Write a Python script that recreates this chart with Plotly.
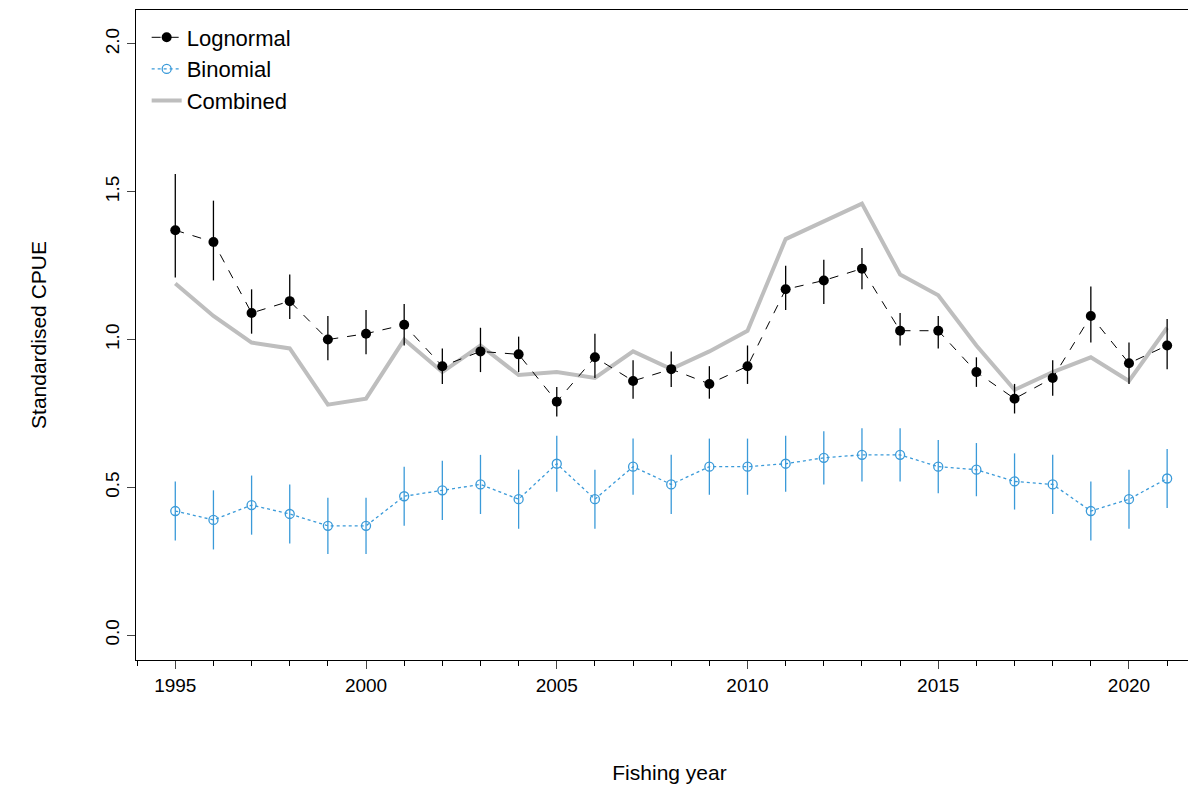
import plotly.graph_objects as go

years = list(range(1995, 2022))
logn = [1.37, 1.33, 1.09, 1.13, 1.00, 1.02, 1.05, 0.91, 0.96, 0.95, 0.79, 0.94, 0.86, 0.90,
        0.85, 0.91, 1.17, 1.20, 1.24, 1.03, 1.03, 0.89, 0.80, 0.87, 1.08, 0.92, 0.98]
logn_lo = [1.21, 1.20, 1.02, 1.07, 0.93, 0.95, 0.98, 0.85, 0.89, 0.89, 0.74, 0.87, 0.80, 0.84,
           0.80, 0.85, 1.10, 1.12, 1.17, 0.98, 0.97, 0.84, 0.75, 0.81, 0.99, 0.85, 0.90]
logn_hi = [1.56, 1.47, 1.17, 1.22, 1.08, 1.10, 1.12, 0.97, 1.04, 1.01, 0.84, 1.02, 0.93, 0.96,
           0.91, 0.98, 1.25, 1.27, 1.31, 1.09, 1.08, 0.94, 0.85, 0.93, 1.18, 0.99, 1.07]
binom = [0.42, 0.39, 0.44, 0.41, 0.37, 0.37, 0.47, 0.49, 0.51, 0.46, 0.58, 0.46, 0.57, 0.51,
         0.57, 0.57, 0.58, 0.60, 0.61, 0.61, 0.57, 0.56, 0.52, 0.51, 0.42, 0.46, 0.53]
binom_err = [0.10, 0.10, 0.10, 0.10, 0.095, 0.095, 0.10, 0.10, 0.10, 0.10, 0.095, 0.10, 0.095, 0.10,
             0.095, 0.095, 0.095, 0.09, 0.09, 0.09, 0.09, 0.09, 0.095, 0.10, 0.10, 0.10, 0.10]
combined = [1.19, 1.08, 0.99, 0.97, 0.78, 0.80, 1.00, 0.89, 0.98, 0.88, 0.89, 0.87, 0.96, 0.90,
            0.96, 1.03, 1.34, 1.40, 1.46, 1.22, 1.15, 0.98, 0.83, 0.89, 0.94, 0.86, 1.04]

blue = "#3a9ad9"
fig = go.Figure()
fig.add_trace(go.Scatter(
    x=years, y=combined, mode="lines", name="Combined", legendrank=3,
    line=dict(color="#bebebe", width=4)))
fig.add_trace(go.Scatter(
    x=years, y=logn, mode="lines+markers", name="Lognormal", legendrank=1,
    line=dict(color="black", width=1, dash="dash"),
    marker=dict(color="black", size=10),
    error_y=dict(type="data", symmetric=False,
                 array=[h - v for h, v in zip(logn_hi, logn)],
                 arrayminus=[v - l for v, l in zip(logn, logn_lo)],
                 color="black", thickness=1.3, width=0)))
fig.add_trace(go.Scatter(
    x=years, y=binom, mode="lines+markers", name="Binomial", legendrank=2,
    line=dict(color=blue, width=1.3, dash="dot"),
    marker=dict(symbol="circle-open", color=blue, size=9, line=dict(width=1.3)),
    error_y=dict(type="data", array=binom_err, color=blue, thickness=1.3, width=0)))

fig.update_layout(
    width=1196, height=787, plot_bgcolor="white", paper_bgcolor="white",
    margin=dict(l=128, r=1, t=2, b=135),
    font=dict(family="Liberation Sans, Arial", size=19, color="black"),
    legend=dict(x=0.01, y=0.99, xanchor="left", yanchor="top",
                bgcolor="rgba(0,0,0,0)", font=dict(size=22)),
)
fig.update_xaxes(range=[1993.97, 2021.94], tickvals=[1995, 2000, 2005, 2010, 2015, 2020],
                 ticks="outside", ticklen=8, showline=True, linecolor="black", mirror=True,
                 showgrid=False, zeroline=False,
                 title=dict(text="Fishing year", standoff=70, font=dict(size=21)),
                 minor=dict(dtick=1, ticks="outside", ticklen=5, tickcolor="black"))
fig.update_yaxes(range=[-0.084, 2.115], tickvals=[0, 0.5, 1.0, 1.5, 2.0],
                 ticktext=["0.0", "0.5", "1.0", "1.5", "2.0"], tickangle=-90,
                 ticks="outside", ticklen=8, showline=True, linecolor="black", mirror=True,
                 showgrid=False, zeroline=False,
                 title=dict(text="Standardised CPUE", standoff=50, font=dict(size=21)))
fig.write_html("out.html")
